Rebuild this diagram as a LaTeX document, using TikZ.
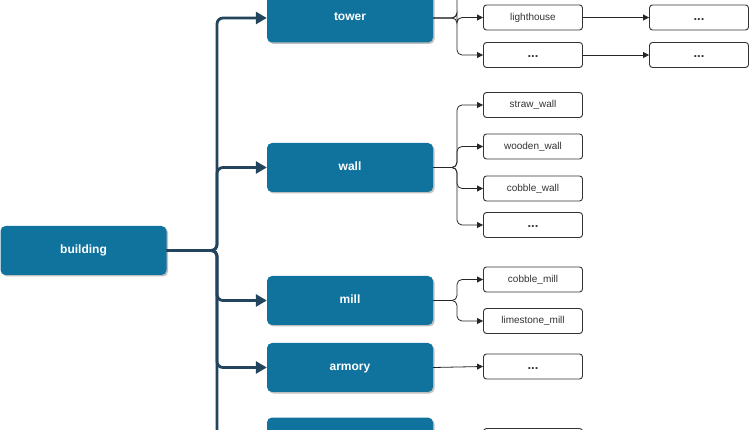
\documentclass[tikz,border=0pt]{standalone}
\usepackage{fontspec}
\setmainfont{Liberation Sans}
\usetikzlibrary{arrows.meta,shadows}
\definecolor{mainblue}{HTML}{10739E}
\definecolor{trunk}{HTML}{23445D}
\definecolor{txtgray}{HTML}{333333}
\tikzset{
  mainbox/.style={rectangle, rounded corners=5pt, fill=mainblue, text=white,
    font=\fontsize{12}{14}\selectfont\bfseries, minimum width=166pt, minimum height=49pt,
    text height=8.5pt, text depth=2.5pt,
    inner sep=0pt, drop shadow={shadow xshift=1.5pt, shadow yshift=-1.5pt, fill=black, opacity=0.25}},
  childbox/.style={rectangle, rounded corners=3pt, draw=txtgray, line width=0.9pt, fill=white,
    text=txtgray, font=\fontsize{10}{12}\selectfont, minimum width=99pt, minimum height=25pt,
    text height=7.2pt, text depth=2.1pt, inner sep=0pt},
  trunkline/.style={draw=trunk, line width=2.8pt, rounded corners=6pt,
    -{Triangle[length=11pt,width=12pt]}},
  branch/.style={draw=black!85, line width=0.8pt, rounded corners=5pt,
    -{Triangle[length=6pt,width=6pt]}}
}
\newcommand{\dotsx}{\textbf{\fontsize{13}{12}\selectfont ...}}
\begin{document}
\begin{tikzpicture}[x=1pt,y=-1pt]
\useasboundingbox (0,0) rectangle (750,430);
\clip (0,0) rectangle (750,430);
% main nodes
\node[mainbox] (building) at (83.5,250.5) {building};
\node[mainbox] (tower) at (350,18) {tower};
\node[mainbox] (wall) at (350,167.5) {wall};
\node[mainbox] (mill) at (350,300.5) {mill};
\node[mainbox] (armory) at (350,367.5) {armory};
\node[mainbox] (fifth) at (350,442) {};
% children
\node[childbox] (towertop) at (533,-21) {};
\node[childbox] (lighthouse) at (533,17.5) {lighthouse};
\node[childbox] (towerdots) at (533,55) {\dotsx};
\node[childbox] (lhdots) at (699,17.5) {\dotsx};
\node[childbox] (tdots2) at (699,55) {\dotsx};
\node[childbox] (straw) at (533,105) {straw\_wall};
\node[childbox] (wooden) at (533,146.5) {wooden\_wall};
\node[childbox] (cobblew) at (533,188.5) {cobble\_wall};
\node[childbox] (walldots) at (533,225) {\dotsx};
\node[childbox] (cobblem) at (533,279.5) {cobble\_mill};
\node[childbox] (limem) at (533,321) {limestone\_mill};
\node[childbox] (armdots) at (533,366.5) {\dotsx};
\node[childbox] (fifthchild) at (533,441) {};
% trunk connectors
\coordinate (tj) at (217,250.5);
\foreach \t in {tower,wall,mill,armory,fifth}
  \draw[trunkline] (building.east) -- (tj) |- (\t.west);
% branches
\coordinate (tb) at (457,18);
\coordinate (wb) at (457,167.5);
\coordinate (mb) at (457,300.5);
\foreach \c in {towertop,lighthouse,towerdots}
  \draw[branch] (tower.east) -- (tb) |- (\c.west);
\foreach \c in {straw,wooden,cobblew,walldots}
  \draw[branch] (wall.east) -- (wb) |- (\c.west);
\foreach \c in {cobblem,limem}
  \draw[branch] (mill.east) -- (mb) |- (\c.west);
\draw[branch] (armory.east) -- (armdots.west);
\draw[branch] (fifth.east) -- (fifthchild.west);
\draw[branch] (lighthouse.east) -- (lhdots.west);
\draw[branch] (towerdots.east) -- (tdots2.west);
\end{tikzpicture}
\end{document}
